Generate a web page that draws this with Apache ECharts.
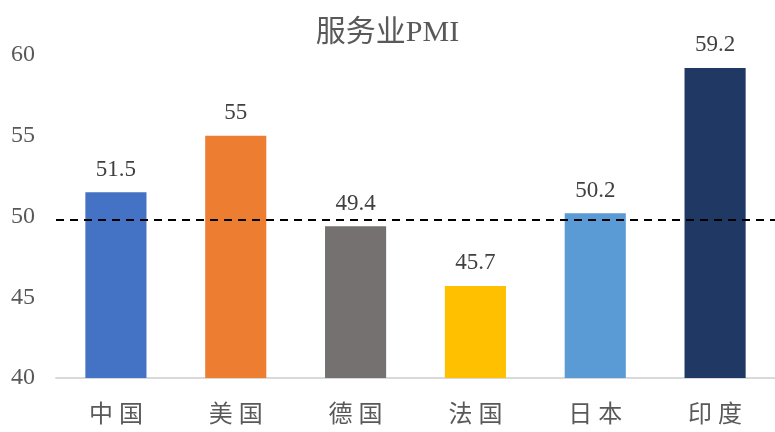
<!DOCTYPE html>
<html>
<head>
<meta charset="utf-8">
<script src="https://cdn.jsdelivr.net/npm/echarts@6/dist/echarts.min.js"></script>
<style>
  html, body { margin: 0; padding: 0; background: #fff; }
  #chart { width: 775px; height: 432px; }
</style>
</head>
<body>
<div id="chart"></div>
<script>
const countries = ['中国', '美国', '德国', '法国', '日本', '印度']
const pmiValues = [51.5, 55, 49.4, 45.7, 50.2, 59.2]
const barColors = ['#4472C4', '#ED7D31', '#767171', '#FFC000', '#5B9BD5', '#203864']
const refLine = 49.8

const serif = "'Liberation Serif', 'Noto Sans CJK SC', serif"

let chart = echarts.init(document.getElementById('chart'))

let option = {
  animation: false,
  title: {
    text: '服务业PMI',
    left: 'center',
    top: 13,
    textStyle: {
      fontFamily: serif,
      fontSize: 30,
      fontWeight: 'normal',
      color: '#595959'
    }
  },
  grid: {
    top: 55,
    left: 56,
    right: 0,
    bottom: 54
  },
  xAxis: {
    type: 'category',
    data: countries,
    axisLine: { lineStyle: { color: '#d9d9d9', width: 2 } },
    axisTick: { show: false },
    axisLabel: {
      margin: 26,
      // spread the two characters a little, like the original
      formatter: v => v.split('').map(c => '{c|' + c + '}').join(''),
      rich: {
        c: {
          fontFamily: serif,
          fontSize: 24,
          color: '#595959',
          padding: [0, 3]
        }
      }
    }
  },
  yAxis: {
    type: 'value',
    min: 40,
    max: 60,
    interval: 5,
    splitLine: { show: false },
    axisLine: { show: false },
    axisTick: { show: false },
    axisLabel: {
      margin: 21,
      fontFamily: serif,
      fontSize: 24,
      color: '#595959'
    }
  },
  series: [{
    type: 'bar',
    barWidth: '51%',
    data: pmiValues.map((v, i) => ({ value: v, itemStyle: { color: barColors[i] } })),
    label: {
      show: true,
      position: 'top',
      distance: 11,
      fontFamily: serif,
      fontSize: 23,
      color: '#404040'
    },
    markLine: {
      silent: true,
      symbol: 'none',
      label: { show: false },
      lineStyle: { color: '#000', type: [8, 6], width: 2 },
      data: [{ yAxis: refLine }]
    }
  }]
}

chart.setOption(option)
</script>
</body>
</html>
